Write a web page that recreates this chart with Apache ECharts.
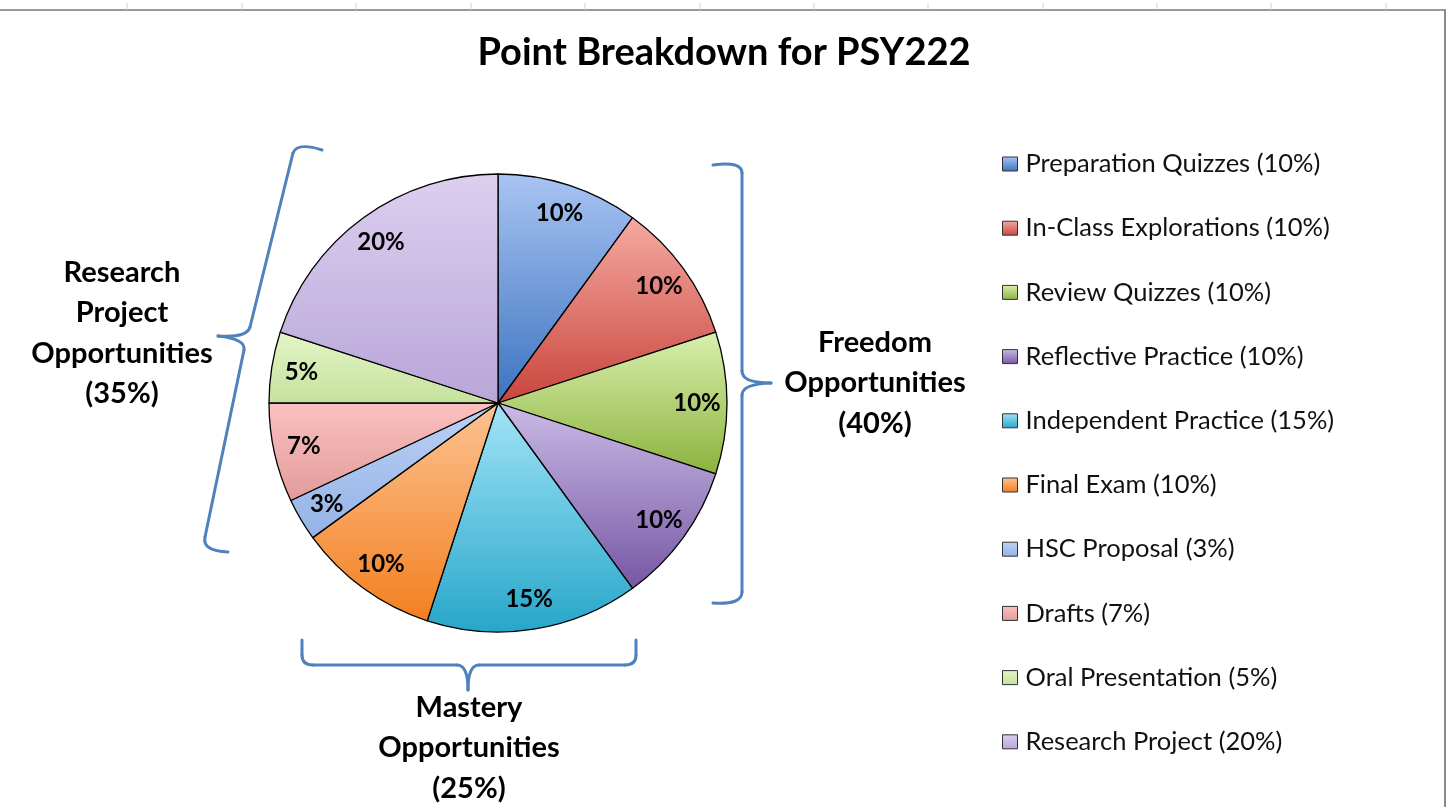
<!DOCTYPE html>
<html>
<head>
<meta charset="utf-8">
<script src="https://cdn.jsdelivr.net/npm/echarts@6/dist/echarts.min.js"></script>
<style>
  html, body { margin: 0; padding: 0; background: #ffffff; }
  #chart { width: 1448px; height: 807px; }
</style>
</head>
<body>
<div id="chart"></div>
<script>
// ---- data ----
const categories = [
  'Preparation Quizzes', 'In-Class Explorations', 'Review Quizzes', 'Reflective Practice',
  'Independent Practice', 'Final Exam', 'HSC Proposal', 'Drafts', 'Oral Presentation', 'Research Project'
];
const points = [10, 10, 10, 10, 15, 10, 3, 7, 5, 20];
const titleText = 'Point Breakdown for PSY222';
const groupLabels = [
  'Research\nProject\nOpportunities\n(35%)',
  'Freedom\nOpportunities\n(40%)',
  'Mastery\nOpportunities\n(25%)'
];

// ---- styles ----
const topColors = ['#a9c4f2', '#f5aaa3', '#d9f0ad', '#cbbbe6', '#a2e4f8', '#fcc393', '#bcd2f6', '#fac1c0', '#e4f5c8', '#dccfef'];
const botColors = ['#3b73c0', '#c9453b', '#8cb23e', '#7657a4', '#27a6c9', '#f37f1f', '#94b2e6', '#e29b9a', '#c6e19d', '#b8a6d8'];
const FONT = 'Lato';
const BLUE = '#4f81bd';

const chart = echarts.init(document.getElementById('chart'), null, { renderer: 'canvas' });

const pieData = categories.map((name, i) => ({
  name: name,
  value: points[i],
  itemStyle: {
    color: new echarts.graphic.LinearGradient(0, 0, 0, 1, [
      { offset: 0, color: topColors[i] },
      { offset: 1, color: botColors[i] }
    ])
  }
}));
const labelData = categories.map((name, i) => ({ name: name, value: points[i] }));

const tickXs = [127, 242, 356, 471, 585, 700, 814, 928, 1043, 1157, 1271, 1386];
const gridGraphics = [
  { type: 'line', shape: { x1: 0, y1: 10, x2: 1446, y2: 10 }, style: { stroke: '#9a9a9a', lineWidth: 2 }, silent: true },
  { type: 'line', shape: { x1: 1445, y1: 10, x2: 1445, y2: 807 }, style: { stroke: '#8a8a8a', lineWidth: 2 }, silent: true }
].concat(tickXs.map(x => ({
  type: 'line', shape: { x1: x, y1: 3, x2: x, y2: 10 }, style: { stroke: '#d0d0d0', lineWidth: 1 }, silent: true
})));

// brace outlines as simple M/L/Q command strings, converted to line / bezierCurve graphics
const braceStyle = { stroke: BLUE, lineWidth: 3, fill: null, lineCap: 'round' };
function braceElements(d) {
  const t = d.trim().split(/\s+/);
  const els = [];
  let i = 0, cx = 0, cy = 0;
  while (i < t.length) {
    const c = t[i++];
    if (c === 'M') { cx = +t[i++]; cy = +t[i++]; }
    else if (c === 'L') {
      const x = +t[i++], y = +t[i++];
      els.push({ type: 'line', shape: { x1: cx, y1: cy, x2: x, y2: y }, style: braceStyle, silent: true, z: 10 });
      cx = x; cy = y;
    } else if (c === 'Q') {
      const qx = +t[i++], qy = +t[i++], x = +t[i++], y = +t[i++];
      els.push({ type: 'bezierCurve', shape: { x1: cx, y1: cy, cpx1: qx, cpy1: qy, x2: x, y2: y }, style: braceStyle, silent: true, z: 10 });
      cx = x; cy = y;
    }
  }
  return els;
}
const braceDefs = [
  'M 322 150 Q 297 142 293 153 L 250 327 Q 247 338 218 336 M 218 336 Q 246 339 244 350 L 205 537 Q 202 551 228 552',
  'M 713 165 Q 742 161 742 173 L 742 371 Q 742 383 771 383 M 771 383 Q 742 384 742 395 L 742 592 Q 742 605 713 603',
  'M 302 640 L 302 655 Q 302 665 313 665 L 457 665 Q 468 665 468 690 M 468 690 Q 468 665 479 665 L 625 665 Q 636 665 636 655 L 636 640'
];
const braces = [].concat(...braceDefs.map(braceElements));

const groupText = [
  { x: 122, y: 333, text: groupLabels[0] },
  { x: 875, y: 383, text: groupLabels[1] },
  { x: 469, y: 748, text: groupLabels[2] }
].map(g => ({
  type: 'text', x: g.x, y: g.y, silent: true, z: 10,
  style: {
    text: g.text, fill: '#000', font: 'bold 29px ' + FONT,
    textAlign: 'center', textVerticalAlign: 'middle', lineHeight: 40.5
  }
}));

chart.setOption({
  backgroundColor: '#ffffff',
  animation: false,
  title: {
    text: titleText,
    left: 'center',
    top: 29,
    textStyle: { fontFamily: FONT, fontWeight: 'bold', fontSize: 38, color: '#000' }
  },
  legend: {
    orient: 'vertical',
    left: 997,
    top: 146,
    itemWidth: 15,
    itemHeight: 14,
    itemGap: 38.2,
    icon: 'rect',
    data: categories,
    formatter: function (name) {
      const i = categories.indexOf(name);
      return name + ' (' + points[i] + '%)';
    },
    itemStyle: { borderColor: '#333', borderWidth: 1 },
    textStyle: { fontFamily: FONT, fontSize: 25.5, color: '#111', lineHeight: 26, padding: [0, 0, 0, 3] }
  },
  graphic: gridGraphics.concat(braces, groupText),
  series: [
    {
      name: 'Points',
      type: 'pie',
      center: [498, 403],
      radius: 229,
      startAngle: 90,
      clockwise: true,
      data: pieData,
      label: { show: false },
      labelLine: { show: false },
      itemStyle: { borderColor: '#000', borderWidth: 1.3 },
      emphasis: { disabled: true }
    },
    {
      name: 'Labels',
      type: 'pie',
      center: [498, 403],
      radius: [172, 220],
      startAngle: 90,
      clockwise: true,
      silent: true,
      data: labelData,
      itemStyle: { color: 'rgba(0,0,0,0)', borderWidth: 0 },
      label: {
        show: true,
        position: 'inside',
        formatter: '{c}%',
        fontFamily: FONT,
        fontWeight: 'bold',
        fontSize: 24,
        color: '#000'
      },
      labelLine: { show: false },
      emphasis: { disabled: true }
    }
  ]
});
</script>
</body>
</html>
